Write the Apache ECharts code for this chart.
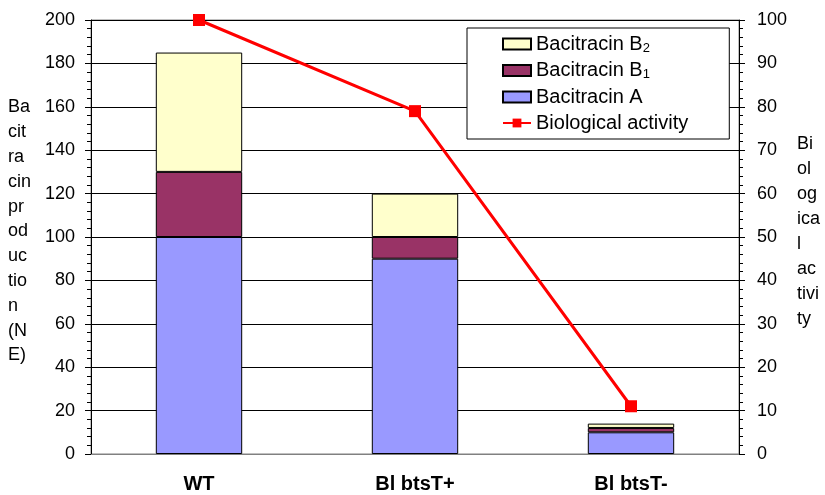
<!DOCTYPE html>
<html>
<head>
<meta charset="utf-8">
<script src="https://cdn.jsdelivr.net/npm/echarts@6/dist/echarts.min.js"></script>
<style>html,body{margin:0;padding:0;background:#fff}#c{width:825px;height:495px}</style>
</head>
<body>
<div id="c"></div>
<script>
var categories = ['WT', 'Bl btsT+', 'Bl btsT-'];
var bacitracinA = [100, 90, 10];
var bacitracinB1 = [30, 10, 2];
var bacitracinB2 = [55, 20, 2];
var biologicalActivity = [100, 79, 11];
var leftTicks = [0, 20, 40, 60, 80, 100, 120, 140, 160, 180, 200];
var rightTicks = [0, 10, 20, 30, 40, 50, 60, 70, 80, 90, 100];

var FONT = 'Liberation Sans, Arial, sans-serif';
var chart = echarts.init(document.getElementById('c'));
var barBorder = {borderColor: '#000', borderWidth: 1};
chart.setOption({
  animation: false,
  textStyle: {fontFamily: FONT},
  grid: {left: 91, right: 86, top: 20, bottom: 41, show: true, borderColor: '#808080', borderWidth: 1},
  legend: {
    orient: 'vertical',
    left: 467, top: 28,
    padding: [6, 41, 6, 35],
    backgroundColor: '#fff',
    borderColor: '#000',
    borderWidth: 1,
    itemWidth: 28, itemHeight: 11, itemGap: 6,
    textStyle: {fontSize: 20, color: '#000', fontFamily: FONT,
      rich: {sub: {fontSize: 13, verticalAlign: 'bottom', padding: [8, 0, 0, 0], fontFamily: FONT, color: '#000'}}},
    data: [
      {name: 'Bacitracin B2', icon: 'rect'},
      {name: 'Bacitracin B1', icon: 'rect'},
      {name: 'Bacitracin A', icon: 'rect'},
      'Biological activity'
    ],
    formatter: function (n) {
      if (n === 'Bacitracin B2') return 'Bacitracin B{sub|2}';
      if (n === 'Bacitracin B1') return 'Bacitracin B{sub|1}';
      return n;
    }
  },
  xAxis: {
    type: 'category', data: categories,
    axisLine: {lineStyle: {color: '#808080', width: 1}},
    axisTick: {show: false},
    axisLabel: {fontSize: 20, fontWeight: 'bold', color: '#000', margin: 20, fontFamily: FONT}
  },
  yAxis: [{
    type: 'value', min: leftTicks[0], max: leftTicks[leftTicks.length - 1], interval: 20,
    axisLine: {show: true, lineStyle: {color: '#000'}},
    axisTick: {show: true, length: 6, lineStyle: {color: '#000'}},
    minorTick: {show: true, splitNumber: 5, length: 4, lineStyle: {color: '#000'}},
    splitLine: {show: true, lineStyle: {color: '#000', width: 1}},
    axisLabel: {fontSize: 18, color: '#000', margin: 16, fontFamily: FONT}
  }, {
    type: 'value', min: rightTicks[0], max: rightTicks[rightTicks.length - 1], interval: 10,
    position: 'right',
    axisLine: {show: true, lineStyle: {color: '#000'}},
    axisTick: {show: true, length: 6, lineStyle: {color: '#000'}},
    minorTick: {show: true, splitNumber: 5, length: 4, lineStyle: {color: '#000'}},
    splitLine: {show: false},
    axisLabel: {fontSize: 18, color: '#000', margin: 18, fontFamily: FONT}
  }],
  graphic: [{
    type: 'text', left: 8, top: 95,
    style: {text: 'Ba\ncit\nra\ncin\npr\nod\nuc\ntio\nn\n(N\nE)', fontSize: 18, lineHeight: 24.8, fill: '#000', fontFamily: FONT}
  }, {
    type: 'text', left: 797, top: 132,
    style: {text: 'Bi\nol\nog\nica\nl\nac\ntivi\nty', fontSize: 18, lineHeight: 25, fill: '#000', fontFamily: FONT}
  }],
  series: [{
    name: 'Bacitracin A', type: 'bar', stack: 's', data: bacitracinA, barWidth: '40%',
    itemStyle: Object.assign({color: '#9999FF'}, barBorder)
  }, {
    name: 'Bacitracin B1', type: 'bar', stack: 's', data: bacitracinB1, barWidth: '40%',
    itemStyle: Object.assign({color: '#993366'}, barBorder)
  }, {
    name: 'Bacitracin B2', type: 'bar', stack: 's', data: bacitracinB2, barWidth: '40%',
    itemStyle: Object.assign({color: '#FFFFCC'}, barBorder)
  }, {
    name: 'Biological activity', type: 'line', yAxisIndex: 1, data: biologicalActivity,
    symbol: 'rect', symbolSize: 12,
    lineStyle: {color: '#FF0000', width: 3},
    itemStyle: {color: '#FF0000'}
  }]
});
</script>
</body>
</html>
